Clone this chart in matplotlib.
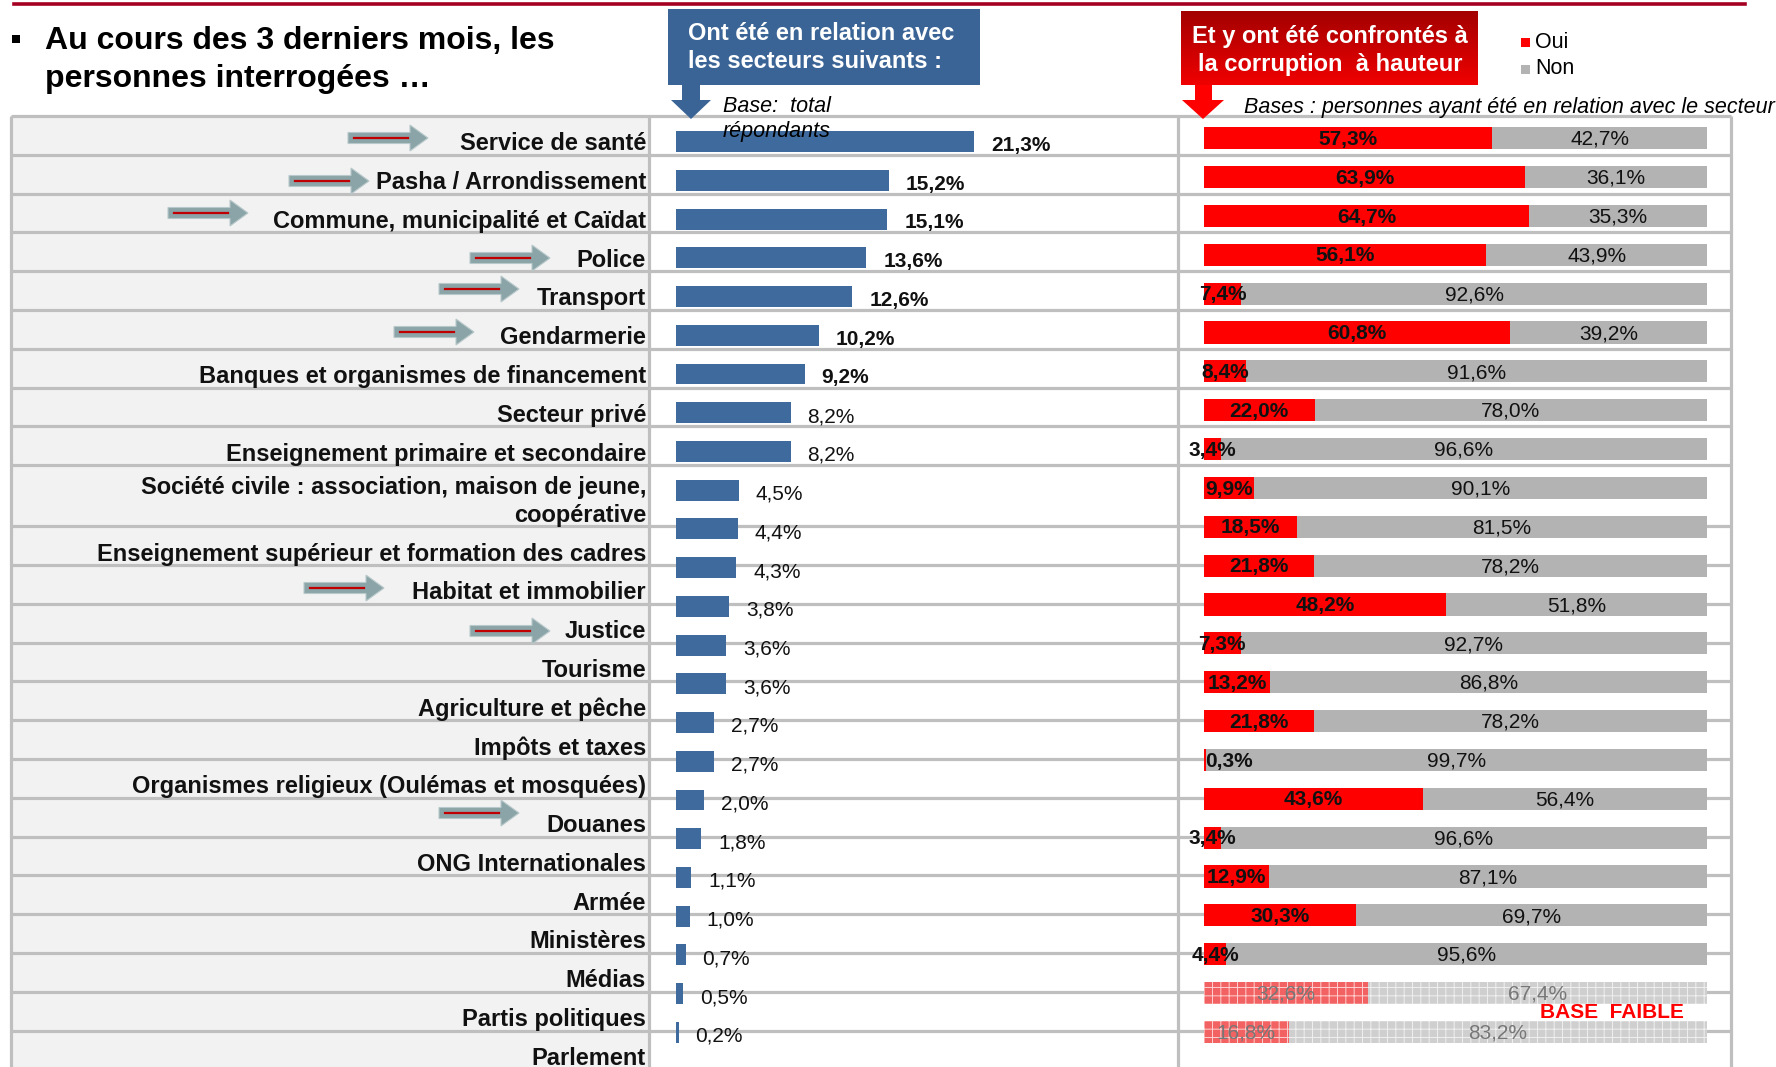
import matplotlib
matplotlib.use('Agg')
import matplotlib.pyplot as plt
import numpy as np
from matplotlib.patches import Rectangle, Polygon
from matplotlib.colors import LinearSegmentedColormap

plt.rcParams['font.family'] = ['Liberation Sans', 'DejaVu Sans']
plt.rcParams['hatch.linewidth'] = 0.7

# ---- data ----
sectors = ['Service de santé', 'Pasha / Arrondissement', 'Commune, municipalité et Caïdat',
           'Police', 'Transport', 'Gendarmerie', 'Banques et organismes de financement',
           'Secteur privé', 'Enseignement primaire et secondaire',
           'Société civile : association, maison de jeune,\ncoopérative',
           'Enseignement supérieur et formation des cadres', 'Habitat et immobilier',
           'Justice', 'Tourisme', 'Agriculture et pêche', 'Impôts et taxes',
           'Organismes religieux (Oulémas et mosquées)', 'Douanes', 'ONG Internationales',
           'Armée', 'Ministères', 'Médias', 'Partis politiques', 'Parlement']

relation = [21.3, 15.2, 15.1, 13.6, 12.6, 10.2, 9.2, 8.2, 8.2, 4.5, 4.4, 4.3,
            3.8, 3.6, 3.6, 2.7, 2.7, 2.0, 1.8, 1.1, 1.0, 0.7, 0.5, 0.2]

oui = [57.3, 63.9, 64.7, 56.1, 7.4, 60.8, 8.4, 22.0, 3.4, 9.9, 18.5, 21.8,
       48.2, 7.3, 13.2, 21.8, 0.3, 43.6, 3.4, 12.9, 30.3, 4.4, 32.6, 16.8]
non = [42.7, 36.1, 35.3, 43.9, 92.6, 39.2, 91.6, 78.0, 96.6, 90.1, 81.5, 78.2,
       51.8, 92.7, 86.8, 78.2, 99.7, 56.4, 96.6, 87.1, 69.7, 95.6, 67.4, 83.2]

n_bold_relation = 7          # first labels shown in bold
low_base = [False] * 22 + [True] * 2

# decorative arrows next to some labels (left x, centre y in pixels)
arrows = [(348, 138), (289, 181), (168, 213), (470, 258), (439, 289),
          (394, 332), (304, 588), (470, 631), (439, 813)]

W, H = 1776, 1067
fig = plt.figure(figsize=(W / 100, H / 100), dpi=100)


def px_axes(left, top, right, bottom, z=0):
    ax = fig.add_axes([left / W, 1 - bottom / H, (right - left) / W, (bottom - top) / H], zorder=z)
    ax.axis('off')
    ax.patch.set_alpha(0)
    return ax


def fmt(v):
    return f'{v:.1f}'.replace('.', ',') + '%'


# ---- table background ----
bg = px_axes(0, 0, W, H, z=0)
bg.set_xlim(0, W)
bg.set_ylim(H, 0)

top = 116
bounds = [top]
for i in range(len(sectors)):
    bounds.append(bounds[-1] + (61 if '\n' in sectors[i] else 38.8))

grid_c = '#bfbfbf'
bg.add_patch(Rectangle((11, top), 638, H - top, fc='#f2f2f2', ec='none'))
for yb in bounds:
    if yb < H:
        bg.plot([11, 1731], [yb, yb], color=grid_c, lw=2.3, solid_capstyle='butt')
for xv in [11, 649, 1178, 1731]:
    bg.plot([xv, xv], [top, H], color=grid_c, lw=2.3, solid_capstyle='butt')

# ---- middle: relation bars ----
c0, step = 141.6, 38.73
ax_mid = px_axes(676, top, 1178, H, z=1)
ax_mid.set_xlim(0, (1178 - 676) / 14.0)
ax_mid.set_ylim((H - c0) / step, (top - c0) / step)
yy = np.arange(len(relation))
ax_mid.barh(yy, relation, height=0.54, color='#3e6a9d')
for i, v in enumerate(relation):
    ax_mid.text(v + 1.2, i + 0.1, fmt(v), ha='left', va='center', fontsize=15,
                fontweight='bold' if i < n_bold_relation else 'normal', color='#111111')

# ---- right: oui / non stacked bars ----
c0r, stepr = 138.2, 38.86
ax_r = px_axes(1204, top, 1707, H, z=1)
ax_r.set_xlim(0, 100)
ax_r.set_ylim((H - c0r) / stepr, (top - c0r) / stepr)
for i in range(len(oui)):
    if low_base[i]:
        ax_r.barh(i, oui[i], height=0.57, color='#f26262', edgecolor='#ffd0d0', lw=0, hatch='++')
        ax_r.barh(i, non[i], left=oui[i], height=0.57, color='#cfcfcf', edgecolor='#f0f0f0',
                  lw=0, hatch='++')
        tc, tw = '#777777', 'normal'
    else:
        ax_r.barh(i, oui[i], height=0.57, color='#ff0000')
        ax_r.barh(i, non[i], left=oui[i], height=0.57, color='#b3b3b3')
        tc, tw = '#111111', 'bold'
    if oui[i] < 1:
        ax_r.text(0.3, i + 0.03, fmt(oui[i]), ha='left', va='center', fontsize=15,
                  fontweight=tw, color=tc)
    else:
        ax_r.text(oui[i] / 2, i + 0.03, fmt(oui[i]), ha='center', va='center', fontsize=15,
                  fontweight=tw, color=tc)
    ax_r.text(oui[i] + non[i] / 2, i + 0.03, fmt(non[i]), ha='center', va='center',
              fontsize=15, color=tc if low_base[i] else '#111111')

# ---- overlay: labels, headers, arrows ----
ov = px_axes(0, 0, W, H, z=3)

for i, lab in enumerate(sectors):
    lines = lab.split('\n')
    for k, line in enumerate(reversed(lines)):
        ov.text(646, bounds[i + 1] - 11 - 28 * k, line, ha='right', va='center',
                fontsize=17, fontweight='bold', color='#111111')

for x0, yc in arrows:
    ln, sh, hh, hl = 80, 11, 26, 18
    pts = [(x0, yc - sh / 2), (x0 + ln - hl, yc - sh / 2), (x0 + ln - hl, yc - hh / 2),
           (x0 + ln, yc), (x0 + ln - hl, yc + hh / 2), (x0 + ln - hl, yc + sh / 2),
           (x0, yc + sh / 2)]
    ov.add_patch(Polygon(pts, closed=True, fc='#8ba4a7', ec='#b9c9cb', lw=0.8))
    ov.plot([x0 + 6, x0 + ln - hl - 2], [yc, yc], color='#c00000', lw=1.6)

# top rule and title
ov.plot([14, 1745], [3.5, 3.5], color='#a50021', lw=2.6)
ov.add_patch(Rectangle((12, 35), 8, 8, fc='black', ec='none'))
ov.text(45, 40.5, 'Au cours des 3 derniers mois, les', fontsize=23, fontweight='bold',
        ha='left', va='center')
ov.text(45, 79.5, 'personnes interrogées …', fontsize=23, fontweight='bold',
        ha='left', va='center')

# blue header with arrow
blue = '#3a6496'
ov.add_patch(Rectangle((668, 9), 312, 76, fc=blue, ec='none'))
ov.text(688, 34, 'Ont été en relation avec', color='white', fontsize=17,
        fontweight='bold', ha='left', va='center')
ov.text(688, 62, 'les secteurs suivants :', color='white', fontsize=17,
        fontweight='bold', ha='left', va='center')
ov.add_patch(Polygon([(682, 85), (700, 85), (700, 100), (711, 100), (691, 119),
                      (671, 100), (682, 100)], closed=True, fc=blue, ec='none'))
ov.text(723, 106, 'Base:  total', fontsize=15.5, style='italic', ha='left', va='center')
ov.text(723, 132, 'répondants', fontsize=15.5, style='italic', ha='left', va='center')

# red header (gradient) with arrow
red_cmap = LinearSegmentedColormap.from_list('redgrad', ['#a30000', '#f00000'])
ov.imshow(np.linspace(0, 1, 100).reshape(-1, 1), cmap=red_cmap, aspect='auto',
          extent=(1181, 1478, 85, 11), zorder=1)
ov.text(1330, 36, 'Et y ont été confrontés à', color='white', fontsize=17,
        fontweight='bold', ha='center', va='center', zorder=2)
ov.text(1330, 65, 'la corruption  à hauteur', color='white', fontsize=17,
        fontweight='bold', ha='center', va='center', zorder=2)
ov.add_patch(Polygon([(1195, 85), (1212, 85), (1212, 100), (1224, 100), (1203, 119),
                      (1182, 100), (1195, 100)], closed=True, fc='#ff0000', ec='none'))
ov.text(1244, 107, 'Bases : personnes ayant été en relation avec le secteur',
        fontsize=15.5, style='italic', ha='left', va='center')

# legend
ov.add_patch(Rectangle((1521, 38), 9, 9, fc='#ff0000', ec='none'))
ov.add_patch(Rectangle((1521, 65), 9, 9, fc='#b3b3b3', ec='none'))
ov.text(1535, 42, 'Oui', fontsize=15.5, ha='left', va='center')
ov.text(1535, 69, 'Non', fontsize=15.5, ha='left', va='center')

ov.text(1540, 1012, 'BASE  FAIBLE', color='#ff0000', fontsize=15, fontweight='bold',
        ha='left', va='center')

ov.set_xlim(0, W)
ov.set_ylim(H, 0)

fig.savefig('out.png', dpi=100)
